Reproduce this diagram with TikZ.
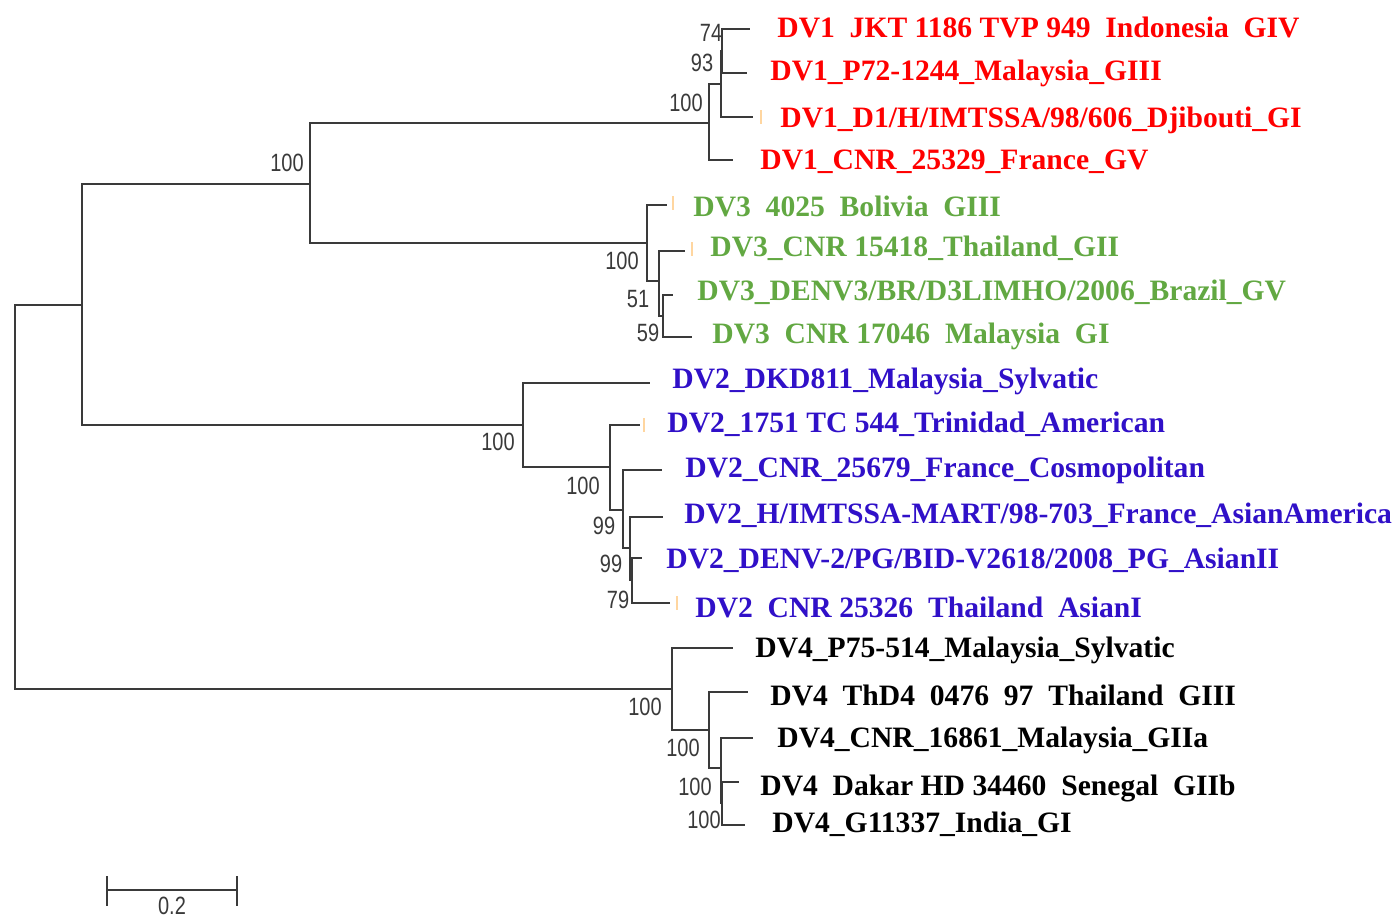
\documentclass[tikz,border=0pt]{standalone}
\usepackage{fontspec}
\setmainfont{Liberation Serif}
\newfontfamily\bootfont[FakeStretch=0.8]{Liberation Sans}
\definecolor{dvone}{RGB}{255,0,0}
\definecolor{dvthree}{RGB}{98,168,66}
\definecolor{dvtwo}{RGB}{48,16,200}
\definecolor{treegray}{RGB}{58,58,58}
\definecolor{tickorange}{RGB}{255,214,160}
\newcommand\ussp{\phantom{\_}}

\begin{document}
\begin{tikzpicture}[x=0.5pt,y=-0.5pt,
    branch/.style={draw=treegray,line width=1.25pt},
    taxon/.style={anchor=base west,inner sep=0pt,font=\bfseries\fontsize{14.8}{16}\selectfont},
    boot/.style={inner sep=0pt,text=treegray,font=\bootfont\fontsize{12.5}{12.5}\selectfont},
    tick/.style={draw=tickorange,line width=0.6pt}]
    \useasboundingbox (0,0) rectangle (1394,918);

    % internal nodes (x of the split, middle of its children)
    \coordinate (root) at (15,497);
    \coordinate (nA) at (82,305);
    \coordinate (nB) at (310,184);
    \coordinate (dv1) at (709,123);
    \coordinate (dv1b) at (721,84);
    \coordinate (dv1c) at (722,51);
    \coordinate (dv3) at (647,243);
    \coordinate (dv3b) at (659,281);
    \coordinate (dv3c) at (663,316);
    \coordinate (dv2) at (523,425);
    \coordinate (dv2b) at (610,467);
    \coordinate (dv2c) at (623,510);
    \coordinate (dv2d) at (630,548);
    \coordinate (dv2e) at (632,580);
    \coordinate (dv4) at (672,689);
    \coordinate (dv4b) at (709,730);
    \coordinate (dv4c) at (721,768);
    \coordinate (dv4d) at (722,803);

    % leaf tips
    \coordinate (t1) at (750,29);
    \coordinate (t2) at (747,73);
    \coordinate (t3) at (753,117);
    \coordinate (t4) at (733,160);
    \coordinate (t5) at (667,205);
    \coordinate (t6) at (685,251);
    \coordinate (t7) at (673,295);
    \coordinate (t8) at (692,337);
    \coordinate (t9) at (650,383);
    \coordinate (t10) at (640,425);
    \coordinate (t11) at (662,470);
    \coordinate (t12) at (663,517);
    \coordinate (t13) at (642,558);
    \coordinate (t14) at (670,603);
    \coordinate (t15) at (733,648);
    \coordinate (t16) at (748,692);
    \coordinate (t17) at (753,738);
    \coordinate (t18) at (739,782);
    \coordinate (t19) at (745,825);

    % branches
    \foreach \p/\c in {root/nA,root/dv4,nA/nB,nA/dv2,nB/dv1,nB/dv3,
        dv1/dv1b,dv1/t4,dv1b/dv1c,dv1b/t3,dv1c/t1,dv1c/t2,
        dv3/t5,dv3/dv3b,dv3b/t6,dv3b/dv3c,dv3c/t7,dv3c/t8,
        dv2/t9,dv2/dv2b,dv2b/t10,dv2b/dv2c,dv2c/t11,dv2c/dv2d,
        dv2d/t12,dv2d/dv2e,dv2e/t13,dv2e/t14,
        dv4/t15,dv4/dv4b,dv4b/t16,dv4b/dv4c,dv4c/t17,dv4c/dv4d,
        dv4d/t18,dv4d/t19} {
        \draw[branch] (\p) |- (\c);
    }

    % faint marks in front of some names
    \foreach \x/\y in {761/117,673/203,692/249,644/425,677/603} {
        \draw[tick] (\x,\y-7) -- (\x,\y+7);
    }

    % bootstrap values
    \node[boot] (b1) at (287,163) {100};
    \node[boot] (b2) at (711,33) {74};
    \node[boot] (b3) at (702,63) {93};
    \node[boot] (b4) at (686,103) {100};
    \node[boot] (b5) at (622,261) {100};
    \node[boot] (b6) at (638,299) {51};
    \node[boot] (b7) at (648,333) {59};
    \node[boot] (b8) at (498,442) {100};
    \node[boot] (b9) at (583,486) {100};
    \node[boot] (b10) at (604,526) {99};
    \node[boot] (b11) at (611,564) {99};
    \node[boot] (b12) at (618,600) {79};
    \node[boot] (b13) at (645,707) {100};
    \node[boot] (b14) at (683,748) {100};
    \node[boot] (b15) at (695,787) {100};
    \node[boot] (b16) at (704,820) {100};

    % taxa
    \node[taxon,text=dvone] (l1) at (777,37) {DV1\ussp JKT 1186 TVP 949\ussp Indonesia\ussp GIV};
    \node[taxon,text=dvone] (l2) at (770,80) {DV1\_P72-1244\_Malaysia\_GIII};
    \node[taxon,text=dvone] (l3) at (780,127) {DV1\_D1/H/IMTSSA/98/606\_Djibouti\_GI};
    \node[taxon,text=dvone] (l4) at (760,169) {DV1\_CNR\_25329\_France\_GV};
    \node[taxon,text=dvthree] (l5) at (693,216) {DV3\ussp 4025\ussp Bolivia\ussp GIII};
    \node[taxon,text=dvthree] (l6) at (710,256) {DV3\_CNR 15418\_Thailand\_GII};
    \node[taxon,text=dvthree] (l7) at (697,300) {DV3\_DENV3/BR/D3LIMHO/2006\_Brazil\_GV};
    \node[taxon,text=dvthree] (l8) at (712,343) {DV3\ussp CNR 17046\ussp Malaysia\ussp GI};
    \node[taxon,text=dvtwo] (l9) at (672,388) {DV2\_DKD811\_Malaysia\_Sylvatic};
    \node[taxon,text=dvtwo] (l10) at (667,432) {DV2\_1751 TC 544\_Trinidad\_American};
    \node[taxon,text=dvtwo] (l11) at (685,477) {DV2\_CNR\_25679\_France\_Cosmopolitan};
    \node[taxon,text=dvtwo] (l12) at (684,523) {DV2\_H/IMTSSA-MART/98-703\_France\_AsianAmerica};
    \node[taxon,text=dvtwo] (l13) at (666,568) {DV2\_DENV-2/PG/BID-V2618/2008\_PG\_AsianII};
    \node[taxon,text=dvtwo] (l14) at (695,617) {DV2\ussp CNR 25326\ussp Thailand\ussp AsianI};
    \node[taxon] (l15) at (755,657) {DV4\_P75-514\_Malaysia\_Sylvatic};
    \node[taxon] (l16) at (770,705) {DV4\ussp ThD4\ussp 0476\ussp 97\ussp Thailand\ussp GIII};
    \node[taxon] (l17) at (777,747) {DV4\_CNR\_16861\_Malaysia\_GIIa};
    \node[taxon] (l18) at (760,795) {DV4\ussp Dakar HD 34460\ussp Senegal\ussp GIIb};
    \node[taxon] (l19) at (772,832) {DV4\_G11337\_India\_GI};

    % scale bar
    \coordinate (s1) at (107,890);
    \coordinate (s2) at (237,890);
    \draw[branch] (s1) -- (s2);
    \draw[branch] ([yshift=7]s1) -- ([yshift=-8]s1);
    \draw[branch] ([yshift=7]s2) -- ([yshift=-8]s2);
    \node[boot,anchor=north] (sc) at (172,897) {0.2};
\end{tikzpicture}
\end{document}
